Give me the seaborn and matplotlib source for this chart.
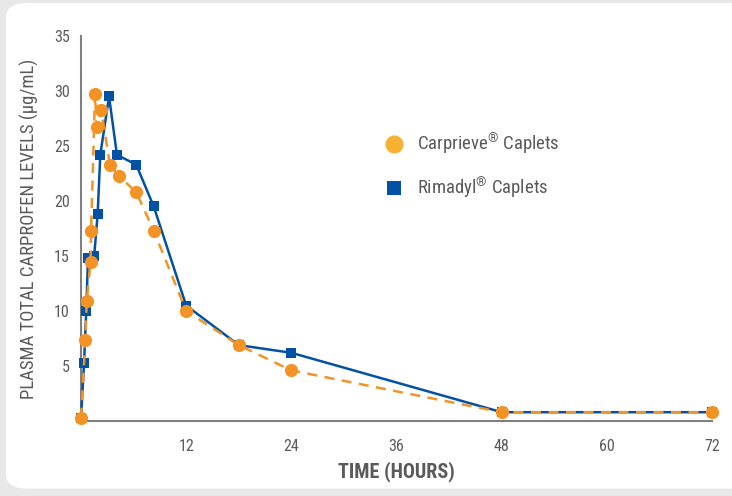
import matplotlib
matplotlib.use("Agg")
import matplotlib.pyplot as plt
from matplotlib import font_manager as fm
from matplotlib.patches import FancyBboxPatch
from matplotlib.lines import Line2D
import seaborn as sns
import pandas as pd

# ---- data ----
carprieve_t = [0, 0.5, 0.65, 1.1, 1.15, 1.6, 1.8, 2.3, 3.3, 4.3, 6.3, 8.3, 12, 18, 24, 48, 72]
carprieve_v = [0.3, 7.4, 10.9, 14.5, 17.3, 29.7, 26.7, 28.3, 23.3, 22.3, 20.8, 17.3, 10.0, 6.9, 4.6, 0.8, 0.8]
rimadyl_t = [0, 0.35, 0.6, 0.8, 1.5, 1.9, 2.2, 3.2, 4.1, 6.3, 8.3, 12, 18, 24, 48, 72]
rimadyl_v = [0.3, 5.3, 10.0, 14.8, 15.0, 18.8, 24.2, 29.5, 24.2, 23.3, 19.5, 10.5, 6.9, 6.2, 0.8, 0.8]
series_names = ["Carprieve$^{\u00ae}$ Caplets", "Rimadyl$^{\u00ae}$ Caplets"]
x_ticks = [0, 6, 12, 18, 24, 30, 36, 42, 48, 54, 60, 66, 72]
x_labels = ["", "", "12", "", "24", "", "36", "", "48", "", "60", "", "72"]
y_ticks = [0, 5, 10, 15, 20, 25, 30, 35]
y_labels = ["", "5", "10", "15", "20", "25", "30", "35"]

ORANGE = "#F39325"
ORANGE_LEG = "#F6B133"
BLUE = "#0152A5"
GREY = "#5a5a5a"

sns.set_theme(style="white")

# pick a condensed family if one is installed
cond_family = None
cond_stretch = "normal"
names = {(f.name, f.stretch) for f in fm.fontManager.ttflist}
for pref in ["Liberation Sans Narrow", "Roboto Condensed", "Open Sans Condensed",
             "Noto Sans Condensed", "DejaVu Sans Condensed"]:
    if any(n == pref for n, _ in names):
        cond_family = pref
        break
if cond_family is None:
    for n, st in names:
        if st in ("condensed", "semi-condensed", 62.5, 75, 87.5) or "Condensed" in n or "Narrow" in n:
            cond_family = n
            cond_stretch = "condensed"
            break
if cond_family is None:
    cond_family = "DejaVu Sans"
    cond_stretch = "condensed"
plt.rcParams["font.family"] = [cond_family, "DejaVu Sans"]
plt.rcParams["font.stretch"] = cond_stretch
plt.rcParams["mathtext.default"] = "regular"

fig = plt.figure(figsize=(7.32, 4.96), dpi=100)
fig.patch.set_facecolor("#e8e8e8")
panel = FancyBboxPatch((0.008, 0.015), 1.05, 0.979, boxstyle="round,pad=0,rounding_size=0.03",
                       transform=fig.transFigure, facecolor="white", edgecolor="none", zorder=-5)
fig.patches.append(panel)

ax = fig.add_axes([81 / 732, 1 - 421 / 496, 631 / 732, 385 / 496])
ax.set_facecolor("none")
ax.set_zorder(2)

df_c = pd.DataFrame({"t": carprieve_t, "v": carprieve_v})
df_r = pd.DataFrame({"t": rimadyl_t, "v": rimadyl_v})

sns.lineplot(data=df_r, x="t", y="v", ax=ax, color=BLUE, lw=1.8, marker="s",
             markersize=7.5, markeredgewidth=0, clip_on=False, zorder=3)
sns.lineplot(data=df_c, x="t", y="v", ax=ax, color=ORANGE, lw=1.8, linestyle=(0, (4, 3)),
             marker="o", markersize=9.5, markeredgewidth=0, clip_on=False, zorder=4)

ax.set_xlim(0, 72)
ax.set_ylim(0, 35)
ax.set_xticks(x_ticks)
ax.set_xticklabels(x_labels)
ax.set_yticks(y_ticks)
ax.set_yticklabels(y_labels)

for s in ["top", "right"]:
    ax.spines[s].set_visible(False)
for s in ["left", "bottom"]:
    ax.spines[s].set_color("#808080")
    ax.spines[s].set_linewidth(1.5)
ax.tick_params(axis="x", direction="out", length=7, width=1, color="#808080",
               labelsize=11.5, labelcolor=GREY, pad=6)
ax.tick_params(axis="y", direction="out", length=5, width=1, color="#808080",
               labelsize=11.5, labelcolor=GREY, pad=3)

ax.set_xlabel("TIME (HOURS)", fontsize=14.5, fontweight="bold", color=GREY, labelpad=5)
ax.set_ylabel("PLASMA TOTAL CARPROFEN LEVELS (\u00b5g/mL)", fontsize=13.5, color=GREY, labelpad=11)

handles = [
    Line2D([], [], marker="o", color=ORANGE_LEG, lw=0, markersize=13, markeredgewidth=0),
    Line2D([], [], marker="s", color=BLUE, lw=0, markersize=10.5, markeredgewidth=0),
]
ax.legend(handles, series_names, loc="upper left", bbox_to_anchor=(0.452, 0.795),
          frameon=False, fontsize=13.5, labelcolor=GREY, handletextpad=0.6,
          labelspacing=1.0, handlelength=1.2)

fig.savefig("out.png", dpi=100, facecolor=fig.get_facecolor())
